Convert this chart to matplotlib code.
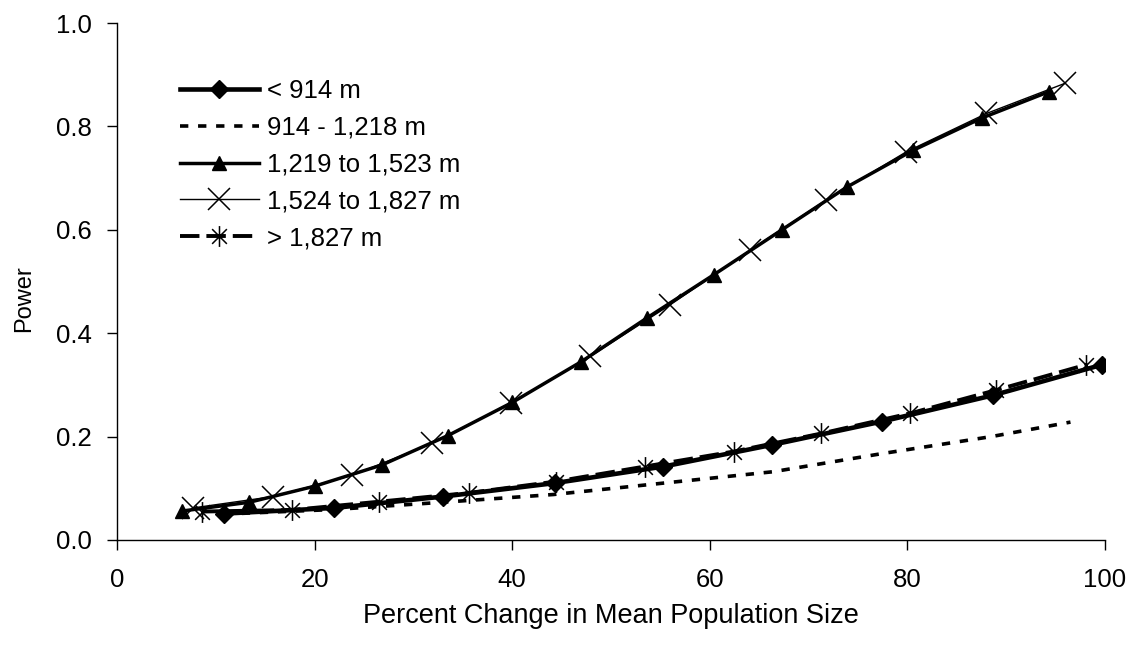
import matplotlib
matplotlib.use("Agg")
import matplotlib.pyplot as plt
from matplotlib.path import Path

plt.rcParams['font.family'] = ['Liberation Sans', 'DejaVu Sans']
plt.rcParams['lines.scale_dashes'] = False

# Power curves by elevation band
x_lt914 = [10.8, 22.0, 33.0, 44.3, 55.3, 66.3, 77.4, 88.7, 99.7]
y_lt914 = [0.051, 0.062, 0.084, 0.110, 0.142, 0.184, 0.229, 0.280, 0.339]

x_914 = [10.8, 22.0, 33.0, 44.2, 55.3, 66.4, 77.4, 88.5, 96.5]
y_914 = [0.050, 0.059, 0.073, 0.088, 0.110, 0.132, 0.167, 0.200, 0.228]

x_1219 = [6.6, 13.4, 20.0, 26.8, 33.5, 40.0, 47.0, 53.6, 60.4, 67.3, 73.9, 80.6, 87.5, 94.3]
y_1219 = [0.056, 0.073, 0.104, 0.145, 0.202, 0.266, 0.345, 0.429, 0.513, 0.600, 0.683, 0.754, 0.816, 0.867]

x_1524 = [7.7, 15.8, 23.8, 31.9, 39.9, 47.9, 56.0, 64.1, 71.8, 79.9, 88.0, 95.9]
y_1524 = [0.062, 0.084, 0.125, 0.187, 0.265, 0.355, 0.455, 0.561, 0.658, 0.751, 0.825, 0.883]

x_gt1827 = [8.6, 17.7, 26.5, 35.6, 44.4, 53.4, 62.4, 71.3, 80.3, 89.0, 98.1]
y_gt1827 = [0.055, 0.058, 0.074, 0.091, 0.113, 0.142, 0.171, 0.206, 0.245, 0.290, 0.339]

labels = ["< 914 m", "914 - 1,218 m", "1,219 to 1,523 m", "1,524 to 1,827 m", "> 1,827 m"]

x_ticks = [0, 20, 40, 60, 80, 100]
y_ticks = [0.0, 0.2, 0.4, 0.6, 0.8, 1.0]

# Asterisk marker: an X with a vertical bar through it
d = 0.7071
star = Path([(-d, -d), (d, d), (-d, d), (d, -d), (0, -1), (0, 1)],
            [Path.MOVETO, Path.LINETO, Path.MOVETO, Path.LINETO, Path.MOVETO, Path.LINETO])

FS = 18.5

fig = plt.figure(figsize=(11.37, 6.48), dpi=100)
ax = fig.add_axes([0.1029, 0.1667, 0.8690, 0.7978])

ax.plot(x_lt914, y_lt914, color='black', lw=3.3, marker='D', ms=9,
        label=labels[0], zorder=3)
ax.plot(x_914, y_914, color='black', lw=2.6, dashes=(6, 7),
        label=labels[1], zorder=2)
ax.plot(x_1219, y_1219, color='black', lw=2.5, marker='^', ms=9.5,
        label=labels[2], zorder=3)
ax.plot(x_1524, y_1524, color='black', lw=1.0, marker='x', ms=15.5, mew=1.1,
        label=labels[3], zorder=4)
ax.plot(x_gt1827, y_gt1827, color='black', lw=2.8, dashes=(14, 5),
        marker=star, ms=15, mew=1.1, label=labels[4], zorder=4)

ax.set_xlim(0, 100)
ax.set_ylim(0, 1.0)
ax.set_xticks(x_ticks)
ax.set_yticks(y_ticks)
ax.set_yticklabels([f"{v:.1f}" for v in y_ticks])
ax.spines['top'].set_visible(False)
ax.spines['right'].set_visible(False)
for s in ('left', 'bottom'):
    ax.spines[s].set_linewidth(1.0)
ax.tick_params(direction='out', length=7.2, width=1.0, labelsize=FS)
ax.tick_params(axis='y', pad=11)
ax.tick_params(axis='x', pad=13)

ax.set_xlabel("Percent Change in Mean Population Size", fontsize=19.5, labelpad=8)
ax.set_ylabel("Power", fontsize=17)
ax.yaxis.set_label_coords(-0.083, 0.466)

ax.legend(loc='upper left', bbox_to_anchor=(0.064, 0.892), frameon=False,
          fontsize=FS, handlelength=3.05, handletextpad=0.32, labelspacing=0.5,
          borderpad=0, borderaxespad=0)

fig.savefig("out.png", dpi=100)
